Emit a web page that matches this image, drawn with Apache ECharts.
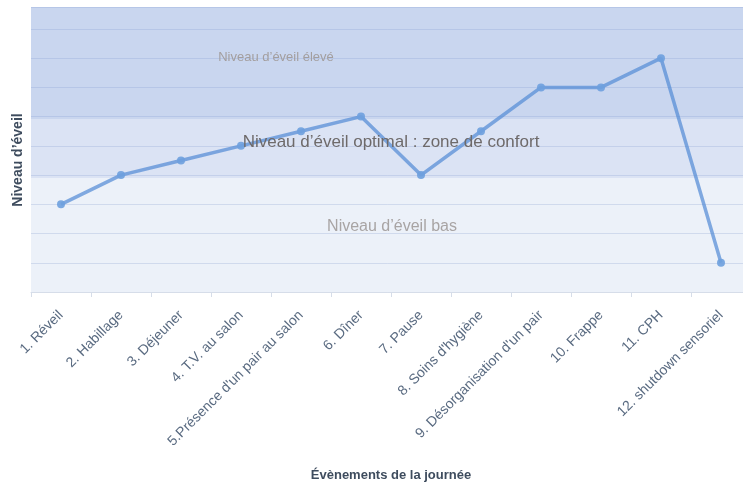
<!DOCTYPE html>
<html>
<head>
<meta charset="utf-8">
<script src="https://cdn.jsdelivr.net/npm/echarts@6/dist/echarts.min.js"></script>
<style>html,body{margin:0;padding:0;background:#fff;}#c{width:743px;height:487px;}</style>
</head>
<body>
<div id="c"></div>
<script>
const categories = ["1. Réveil","2. Habillage","3. Déjeuner","4. T.V. au salon","5.Présence d'un pair au salon","6. Dîner","7. Pause","8. Soins d'hygiène","9. Désorganisation d'un pair","10. Frappe","11. CPH","12. shutdown sensoriel"];
const values = [3, 4, 4.5, 5, 5.5, 6, 4, 5.5, 7, 7, 8, 1];
const bandLow = [0, 3.9];
const bandOptimal = [3.9, 5.92];
const bandHigh = [5.92, 9.75];
const bandNames = ["Niveau d’éveil bas", "Niveau d’éveil optimal : zone de confort", "Niveau d’éveil élevé"];
const yName = "Niveau d’éveil";
const xName = "Évènements de la journée";

const font = "'Liberation Sans', 'Open Sans', sans-serif";
const chart = echarts.init(document.getElementById('c'));
chart.setOption({
  animation: false,
  backgroundColor: '#ffffff',
  grid: { left: 31, width: 720, top: 7, bottom: 195, containLabel: false, outerBoundsMode: 'none' },
  xAxis: {
    type: 'category',
    data: categories,
    boundaryGap: true,
    axisLine: { show: true, lineStyle: { color: '#d6dde9', width: 1 } },
    axisTick: { show: true, length: 5, lineStyle: { color: '#d6dde9' } },
    axisLabel: { interval: 0, rotate: 45, fontSize: 14, color: '#596a80', fontFamily: font, margin: 21 },
    name: xName,
    nameLocation: 'middle',
    nameGap: 177,
    nameTextStyle: { fontSize: 13, fontWeight: 'bold', color: '#3e4c5e', fontFamily: font }
  },
  yAxis: {
    type: 'value',
    min: 0,
    max: 9.75,
    interval: 1,
    axisLine: { show: false },
    axisTick: { show: false },
    axisLabel: { show: false },
    splitLine: { show: true, lineStyle: { color: 'rgba(150,170,210,0.35)', width: 1 } }
  },
  graphic: [
    { type: 'text', x: 18, y: 160, rotation: Math.PI / 2, style: { text: yName, font: 'bold 14px ' + font, fill: '#3e4c5e', align: 'center', verticalAlign: 'middle' }, z: 10 },
    { type: 'text', x: 276, y: 57, style: { text: bandNames[2], font: '13px ' + font, fill: '#a39e9e', align: 'center', verticalAlign: 'middle' }, z: 10 },
    { type: 'text', x: 391, y: 142, style: { text: bandNames[1], font: '17px ' + font, fill: '#6e6a6a', align: 'center', verticalAlign: 'middle' }, z: 10 },
    { type: 'text', x: 392, y: 227, style: { text: bandNames[0], font: '16px ' + font, fill: '#a8a4a4', align: 'center', verticalAlign: 'middle' }, z: 10 }
  ],
  series: [{
    type: 'line',
    data: values,
    symbol: 'circle',
    symbolSize: 8,
    lineStyle: { color: 'rgba(84,140,214,0.72)', width: 3.5 },
    itemStyle: { color: 'rgba(110,160,222,0.9)' },
    z: 5,
    markArea: {
      silent: true,
      data: [
        [{ yAxis: bandLow[0], itemStyle: { color: 'rgba(180,198,232,0.25)' } }, { yAxis: bandLow[1] }],
        [{ yAxis: bandOptimal[0], itemStyle: { color: 'rgba(160,182,226,0.38)' } }, { yAxis: bandOptimal[1] }],
        [{ yAxis: bandHigh[0], itemStyle: { color: 'rgba(143,170,222,0.48)' } }, { yAxis: bandHigh[1] }]
      ]
    }
  }]
});
</script>
</body>
</html>
